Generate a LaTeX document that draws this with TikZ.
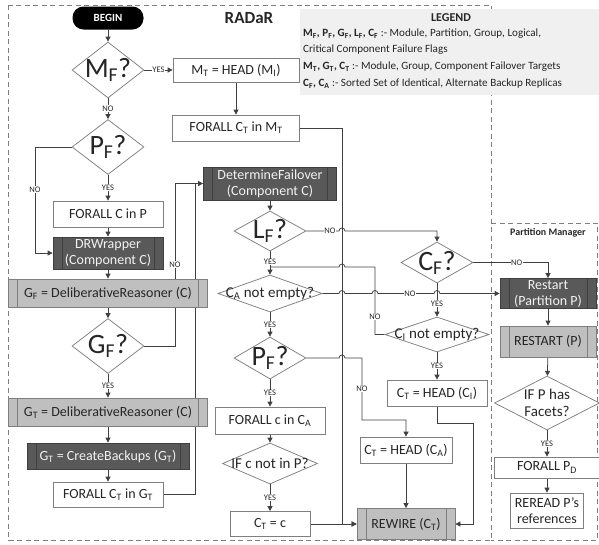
\documentclass[tikz,border=0pt]{standalone}
\usepackage{fontspec}
\setmainfont{Carlito}
\usetikzlibrary{shapes.geometric,arrows.meta,backgrounds}
\definecolor{lncol}{HTML}{404040}
\definecolor{bord}{HTML}{7F7F7F}
\definecolor{txt}{HTML}{262626}
\definecolor{dk}{HTML}{595959}
\definecolor{dkb}{HTML}{3F3F3F}
\definecolor{dktx}{HTML}{F2F2F2}
\definecolor{lt}{HTML}{BFBFBF}
\definecolor{leg}{HTML}{F0F0F0}
\definecolor{dashc}{HTML}{7F7F7F}
\newcommand\sbs[1]{\textsubscript{#1}}
\begin{document}
\begin{tikzpicture}[x=1pt,y=1pt,
 ln/.style={draw=lncol, line width=0.75pt},
 arr/.style={ln, -{Triangle[length=5pt,width=5pt]}},
 lab/.style={font=\fontsize{8.5}{9}\selectfont, text=txt, fill=white, inner sep=0.6pt},
 box/.style={rectangle, draw=bord, line width=0.75pt, inner sep=0pt, align=center, text=txt, font=\fontsize{14}{16}\selectfont},
 bars/.style={path picture={\draw[#1, line width=0.75pt] ([xshift=9pt]path picture bounding box.north west) -- ([xshift=9pt]path picture bounding box.south west) ([xshift=-9pt]path picture bounding box.north east) -- ([xshift=-9pt]path picture bounding box.south east);}},
 wbox/.style={box, fill=white},
 dkbox/.style={box, fill=dk, draw=dkb, text=dktx, bars=dkb},
 ltbox/.style={box, fill=lt, bars=bord},
 dmd/.style={shape=diamond, draw=bord, fill=white, line width=0.75pt, inner sep=0pt},
 dbig/.style={font=\fontsize{28}{28}\selectfont, text=txt, inner sep=0pt},
 dsm/.style={font=\fontsize{15}{17}\selectfont, text=txt, inner sep=0pt, align=center},
 frame/.style={draw=dashc, line width=0.75pt, dash pattern=on 5pt off 3.5pt},
 legt/.style={font=\fontsize{11.1}{12}\selectfont, text=txt, inner sep=0pt, anchor=west}
]
\useasboundingbox (0,0) rectangle (599,-544);

% legend
\node[fill=leg, minimum width=299, minimum height=86, anchor=north west, inner sep=0] (legbox) at (300,-9) {};
\node[font=\bfseries\fontsize{12}{13}\selectfont, text=txt] (legtitle) at (451,-18) {LEGEND};
\node[legt] (leg1) at (303,-34) {\textbf{M\sbs{F}, P\sbs{F}, G\sbs{F}, L\sbs{F}, C\sbs{F}} :- Module, Partition, Group, Logical,};
\node[legt] (leg2) at (303,-50) {Critical Component Failure Flags};
\node[legt] (leg3) at (303,-67) {\textbf{M\sbs{T}, G\sbs{T}, C\sbs{T}} :- Module, Group, Component Failover Targets};
\node[legt] (leg4) at (303,-84) {\textbf{C\sbs{F}, C\sbs{A}} :- Sorted Set of Identical, Alternate Backup Replicas};

% titles
\node[font=\bfseries\fontsize{17}{18}\selectfont, text=txt] (title) at (249,-18) {RADaR};
\node[font=\bfseries\fontsize{10}{11}\selectfont, text=txt] (pmlab) at (548,-233) {Partition Manager};

% left column
\node[rectangle, rounded corners=11pt, fill=black, minimum width=71, minimum height=23, inner sep=0, text=white, font=\bfseries\fontsize{11}{12}\selectfont] (begin) at (108,-18) {BEGIN};
\node[dmd, minimum width=72, minimum height=56] (mf) at (108,-70) {};
\node[dbig] (mft) at (108,-70) {M\sbs{F}?};
\node[wbox, minimum width=126, minimum height=24] (mt) at (236,-70) {M\sbs{T} = HEAD (M\sbs{I})};
\node[wbox, minimum width=127, minimum height=26] (fctm) at (236,-128) {FORALL C\sbs{T} in M\sbs{T}};
\node[dmd, minimum width=72, minimum height=55] (pf) at (108,-147) {};
\node[dbig] (pft) at (108,-147) {P\sbs{F}?};
\node[wbox, minimum width=110, minimum height=26] (fcp) at (108,-214) {FORALL C in P};
\node[dkbox, minimum width=110, minimum height=32] (drw) at (108,-253) {DRWrapper\\(Component C)};
\node[ltbox, minimum width=199, minimum height=28] (gfdr) at (108,-293) {G\sbs{F} = DeliberativeReasoner (C)};
\node[dmd, minimum width=72, minimum height=55] (gf) at (108,-346) {};
\node[dbig] (gft) at (108,-346) {G\sbs{F}?};
\node[ltbox, minimum width=199, minimum height=28] (gtdr) at (108,-412) {G\sbs{T} = DeliberativeReasoner (C)};
\node[dkbox, minimum width=162, minimum height=26] (gtcb) at (108,-456) {G\sbs{T} = CreateBackups (G\sbs{T})};
\node[wbox, minimum width=110, minimum height=25] (fctg) at (108,-494.5) {FORALL C\sbs{T} in G\sbs{T}};

% middle column
\node[dkbox, minimum width=133, minimum height=33] (df) at (270,-183.5) {DetermineFailover\\(Component C)};
\node[dmd, minimum width=72, minimum height=40] (lf) at (270,-231) {};
\node[dbig] (lft) at (270,-231) {L\sbs{F}?};
\node[dmd, minimum width=104, minimum height=37] (ca) at (270,-293.5) {};
\node[dsm] (cat) at (270,-293.5) {C\sbs{A} not empty?};
\node[dmd, minimum width=72, minimum height=42] (pfm) at (270,-358) {};
\node[dbig] (pfmt) at (270,-358) {P\sbs{F}?};
\node[wbox, minimum width=110, minimum height=27] (fcca) at (270,-420.5) {FORALL c in C\sbs{A}};
\node[dmd, minimum width=95, minimum height=41] (icp) at (270,-463.5) {};
\node[dsm] (icpt) at (270,-463.5) {IF c not in P?};
\node[wbox, minimum width=80, minimum height=25] (ctc) at (270,-524) {C\sbs{T} = c};

\node[dmd, minimum width=72, minimum height=41] (cf) at (437,-262.5) {};
\node[dbig] (cft) at (437,-262.5) {C\sbs{F}?};
\node[dmd, minimum width=104, minimum height=35] (ci) at (437,-334.5) {};
\node[dsm] (cit) at (437,-334.5) {C\sbs{I} not empty?};
\node[wbox, minimum width=100, minimum height=26] (cthi) at (437,-393) {C\sbs{T} = HEAD (C\sbs{I})};
\node[wbox, minimum width=92, minimum height=26] (ctha) at (406,-450) {C\sbs{T} = HEAD (C\sbs{A})};
\node[ltbox, minimum width=98, minimum height=31] (rew) at (406,-524) {REWIRE (C\sbs{T})};

% partition manager
\node[dkbox, minimum width=96, minimum height=30] (rst) at (548,-293.5) {Restart\\(Partition P)};
\node[ltbox, minimum width=96, minimum height=31] (rstp) at (548,-341.5) {RESTART (P)};
\node[dmd, minimum width=105, minimum height=54] (ifp) at (547,-403) {};
\node[dsm] (ifpt) at (547,-403) {IF P has\\Facets?};
\node[wbox, minimum width=106, minimum height=21] (fpd) at (547,-467.5) {FORALL P\sbs{D}};
\node[wbox, minimum width=73, minimum height=35] (rer) at (547,-510.5) {REREAD P’s\\references};

% helper coordinates
\coordinate (j342) at (342,-524);
\coordinate (jn1) at (175,-183.5);
\coordinate (jn2) at (195,-183.5);
\coordinate (pfl) at (35,-253);
\coordinate (hA) at (339,-231);
\coordinate (f1) at (437,-231);
\coordinate (c1) at (375,-334.5);
\coordinate (c2) at (375,-267);
\coordinate (c3) at (345,-267);
\coordinate (c4) at (270,-267);
\coordinate (hb1) at (339,-293.5);
\coordinate (hb2) at (372,-293.5);
\coordinate (hb3) at (434,-293.5);
\coordinate (hc1) at (339,-358);
\coordinate (e1) at (362,-358);
\coordinate (e2) at (362,-420);
\coordinate (d1) at (473,-423);
\coordinate (d2) at (473,-524);

\begin{scope}[on background layer]
\draw[frame] (8,-5) rectangle (491,-540);
\draw[frame] (491,-223) -- (597.5,-223) -- (597.5,-540) -- (491,-540);

\draw[arr] (begin) -- (mf);
\draw[arr] (mf.east) -- node[lab]{YES} (mt.west);
\draw[arr] (mf.south) -- node[lab]{NO} (pf.north);
\draw[arr] (mt) -- (fctm);
\draw[arr] (fctm.east) -| (j342) -- (rew.west);
\draw[arr] (pf.west) -| node[lab,pos=0.7]{NO} (pfl) -- (drw.west);
\draw[arr] (pf.south) -- node[lab]{YES} (fcp.north);
\draw[arr] (fcp) -- (drw);
\draw[arr] (drw) -- (gfdr);
\draw[arr] (gfdr) -- (gf);
\draw[arr] (gf.east) -| node[lab,pos=0.75]{NO} (jn1) -- (df.west);
\draw[ln] (fctg.east) -| (jn2);
\draw[arr] (gf.south) -- node[lab]{YES} (gtdr.north);
\draw[arr] (gtdr) -- (gtcb);
\draw[arr] (gtcb) -- (fctg);

\draw[arr] (df) -- (lf);
\draw[arr] (lf.east) -- node[lab,pos=0.72]{NO} (hA) arc[start angle=180,end angle=0,radius=3pt] -- (f1) -- (cf.north);
\draw[arr] (lf.south) -- node[lab,pos=0.46]{YES} (ca.north);
\draw[ln] (ci.west) -- (c1) -- node[lab,pos=0.26]{NO} (c2) -- (c3) arc[start angle=0,end angle=180,radius=3pt] -- (c4);
\draw[arr] (ca.east) -- (hb1) arc[start angle=180,end angle=0,radius=3pt] -- (hb2) arc[start angle=180,end angle=0,radius=3pt] -- node[lab,pos=0.57]{NO} (hb3) arc[start angle=180,end angle=0,radius=3pt] -- (rst.west);
\draw[arr] (ca.south) -- node[lab]{YES} (pfm.north);
\draw[arr] (cf.east) -| node[lab,pos=0.29]{NO} (rst.north);
\draw[arr] (cf.south) -- node[lab,pos=0.6]{YES} (ci.north);
\draw[arr] (ci.south) -- node[lab]{YES} (cthi.north);
\draw[arr] (cthi.south) |- (d1) -- (d2) -- (rew.east);
\draw[arr] (pfm.east) -- (hc1) arc[start angle=180,end angle=0,radius=3pt] -- (e1) -- node[lab]{NO} (e2) -| (ctha.north);
\draw[arr] (pfm.south) -- node[lab]{YES} (fcca.north);
\draw[arr] (fcca) -- (icp);
\draw[arr] (icp.south) -- node[lab]{YES} (ctc.north);
\draw[arr] (ctc.east) -- (rew.west);
\draw[arr] (ctha) -- (rew);

\draw[arr] (rst) -- (rstp);
\draw[arr] (rstp) -- (ifp);
\draw[arr] (ifp.south) -- node[lab]{YES} (fpd.north);
\draw[arr] (fpd) -- (rer);
\end{scope}
\end{tikzpicture}
\end{document}
